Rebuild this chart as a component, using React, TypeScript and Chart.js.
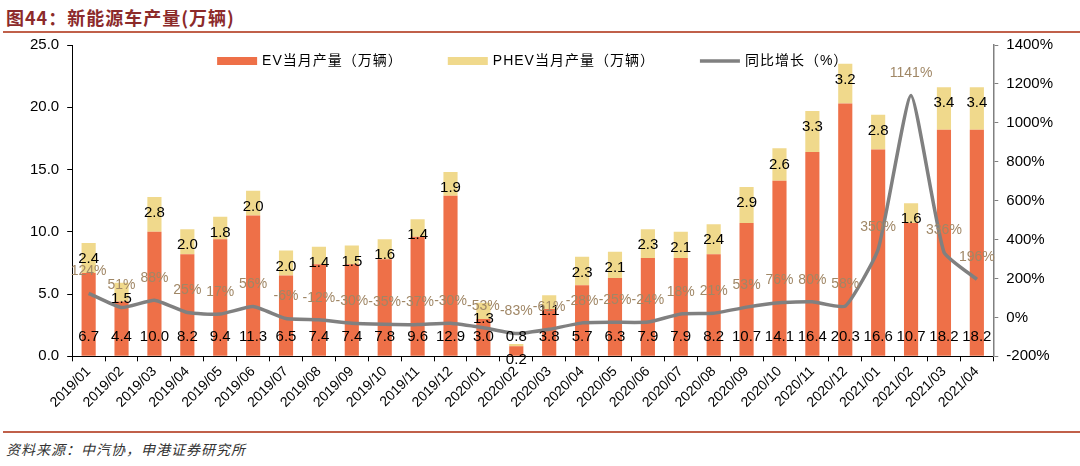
import React, { useRef, useEffect } from 'react';
import { Chart, registerables } from 'chart.js';

Chart.register(...registerables);

const months = [
  '2019/01', '2019/02', '2019/03', '2019/04', '2019/05', '2019/06', '2019/07',
  '2019/08', '2019/09', '2019/10', '2019/11', '2019/12', '2020/01', '2020/02',
  '2020/03', '2020/04', '2020/05', '2020/06', '2020/07', '2020/08', '2020/09',
  '2020/10', '2020/11', '2020/12', '2021/01', '2021/02', '2021/03', '2021/04',
];
const evOutput = [
  6.7, 4.4, 10.0, 8.2, 9.4, 11.3, 6.5, 7.4, 7.4, 7.8, 9.6, 12.9, 3.0, 0.8,
  3.8, 5.7, 6.3, 7.9, 7.9, 8.2, 10.7, 14.1, 16.4, 20.3, 16.6, 10.7, 18.2, 18.2,
];
const phevOutput = [
  2.4, 1.5, 2.8, 2.0, 1.8, 2.0, 2.0, 1.4, 1.5, 1.6, 1.4, 1.9, 1.3, 0.2,
  1.1, 2.3, 2.1, 2.3, 2.1, 2.4, 2.9, 2.6, 3.3, 3.2, 2.8, 1.6, 3.4, 3.4,
];
const yoyGrowth = [
  124, 51, 88, 25, 17, 56, -6, -12, -30, -35, -37, -30, -53, -83,
  -61, -28, -25, -24, 18, 21, 53, 76, 80, 58, 350, 1141, 336, 196,
];

const FONT = '"Liberation Sans", Arial, "Noto Sans CJK SC", sans-serif';

// draws the value labels on bars and line points
const valueLabels = {
  id: 'valueLabels',
  afterDatasetsDraw(chart: any) {
    const ctx = chart.ctx;
    ctx.save();
    ctx.textAlign = 'center';
    ctx.textBaseline = 'middle';

    const ev = chart.getDatasetMeta(0);
    ctx.font = `15px ${FONT}`;
    ctx.fillStyle = '#000';
    ev.data.forEach((el: any, i: number) => {
      ctx.fillText(evOutput[i].toFixed(1), el.x, el.base - 19);
    });

    const phev = chart.getDatasetMeta(1);
    phev.data.forEach((el: any, i: number) => {
      ctx.fillText(phevOutput[i].toFixed(1), el.x, el.y + 16);
    });

    const yoy = chart.getDatasetMeta(2);
    ctx.font = `14px ${FONT}`;
    ctx.fillStyle = '#a08766';
    yoy.data.forEach((pt: any, i: number) => {
      ctx.fillText(yoyGrowth[i] + '%', pt.x, pt.y - 22);
    });
    ctx.restore();
  },
};

// legend sitting inside the plot, top centre
const innerLegend = {
  id: 'innerLegend',
  afterDraw(chart: any) {
    const ctx = chart.ctx;
    const area = chart.chartArea;
    const sets = chart.data.datasets;
    ctx.save();
    ctx.font = `14px ${FONT}`;
    (ctx as any).letterSpacing = '1px';
    const widths = sets.map((d: any) => 45 + ctx.measureText(d.label).width);
    const gap = 45;
    const total = widths.reduce((a: number, b: number) => a + b, 0) + gap * (sets.length - 1);
    let x = (area.left + area.right) / 2 - total / 2;
    const y = area.top + 16;
    sets.forEach((d: any, i: number) => {
      if (d.type === 'line') {
        ctx.strokeStyle = d.borderColor;
        ctx.lineWidth = 3.5;
        ctx.beginPath();
        ctx.moveTo(x, y);
        ctx.lineTo(x + 40, y);
        ctx.stroke();
      } else {
        ctx.fillStyle = d.backgroundColor;
        ctx.fillRect(x, y - 4, 40, 8);
      }
      ctx.fillStyle = '#000';
      ctx.textAlign = 'left';
      ctx.textBaseline = 'middle';
      ctx.fillText(d.label, x + 45, y);
      x += widths[i] + gap;
    });
    ctx.restore();
  },
};

const App: React.FC = () => {
  const chartRef = useRef<HTMLCanvasElement>(null);

  useEffect(() => {
    document.body.style.margin = '0';
    if (!chartRef.current) return;
    const chart = new Chart(chartRef.current, {
      type: 'bar',
      data: {
        labels: months,
        datasets: [
          {
            label: 'EV当月产量（万辆）',
            data: evOutput,
            backgroundColor: '#ee7048',
            yAxisID: 'y',
            stack: 'out',
            barPercentage: 0.43,
            categoryPercentage: 1,
          },
          {
            label: 'PHEV当月产量（万辆）',
            data: phevOutput,
            backgroundColor: '#f0d98c',
            yAxisID: 'y',
            stack: 'out',
            barPercentage: 0.43,
            categoryPercentage: 1,
          },
          {
            type: 'line',
            label: '同比增长（%）',
            data: yoyGrowth,
            borderColor: '#808080',
            backgroundColor: '#808080',
            borderWidth: 3.5,
            pointRadius: 0,
            tension: 0.15,
            yAxisID: 'y1',
            order: -1,
          } as any,
        ],
      },
      options: {
        animation: false,
        responsive: false,
        maintainAspectRatio: false,
        layout: { padding: { left: 22, right: 19, top: 0, bottom: 0 } },
        plugins: {
          legend: { display: false },
          tooltip: { enabled: false },
        },
        scales: {
          x: {
            stacked: true,
            grid: { drawOnChartArea: false, drawTicks: true, tickLength: 5, color: '#000', offset: true },
            border: { color: '#000', width: 1 },
            ticks: {
              color: '#000',
              font: { family: FONT, size: 14 },
              maxRotation: 45,
              minRotation: 45,
              autoSkip: false,
              padding: 2,
            },
          },
          y: {
            stacked: true,
            position: 'left',
            min: 0,
            max: 25,
            grid: { drawOnChartArea: false, tickLength: 5, color: '#000' },
            border: { color: '#000', width: 1 },
            ticks: {
              stepSize: 5,
              color: '#000',
              font: { family: FONT, size: 15 },
              callback: (v: any) => Number(v).toFixed(1),
              padding: 8,
            },
          },
          y1: {
            position: 'right',
            min: -200,
            max: 1400,
            grid: { drawOnChartArea: false, tickLength: 5, color: '#808080' },
            border: { color: '#808080', width: 1.5 },
            ticks: {
              stepSize: 200,
              color: '#000',
              font: { family: FONT, size: 15 },
              callback: (v: any) => v + '%',
              padding: 8,
            },
          },
        },
      },
      plugins: [valueLabels, innerLegend],
    });
    return () => chart.destroy();
  }, []);

  return (
    <div style={{ position: 'relative', width: 1080, height: 466, background: '#fff', fontFamily: FONT }}>
      <div
        style={{
          position: 'absolute', left: 6, top: 4, fontSize: 18, fontWeight: 'bold',
          color: '#8c2a2a', fontFamily: '"Noto Sans CJK SC", sans-serif', letterSpacing: 1,
        }}
      >
        图44：新能源车产量(万辆)
      </div>
      <div style={{ position: 'absolute', left: 3, right: 0, top: 31, height: 2, background: '#c0604a' }} />
      <canvas
        ref={chartRef}
        width={1080}
        height={385}
        style={{ position: 'absolute', left: 0, top: 28, width: 1080, height: 385 }}
      />
      <div style={{ position: 'absolute', left: 3, right: 0, top: 431, height: 2, background: '#c0604a' }} />
      <div
        style={{
          position: 'absolute', left: 6, top: 439, fontSize: 14, fontStyle: 'italic',
          color: '#333', fontFamily: '"Noto Sans CJK SC", sans-serif', letterSpacing: 1,
        }}
      >
        资料来源：中汽协，申港证券研究所
      </div>
    </div>
  );
};

export default App;
